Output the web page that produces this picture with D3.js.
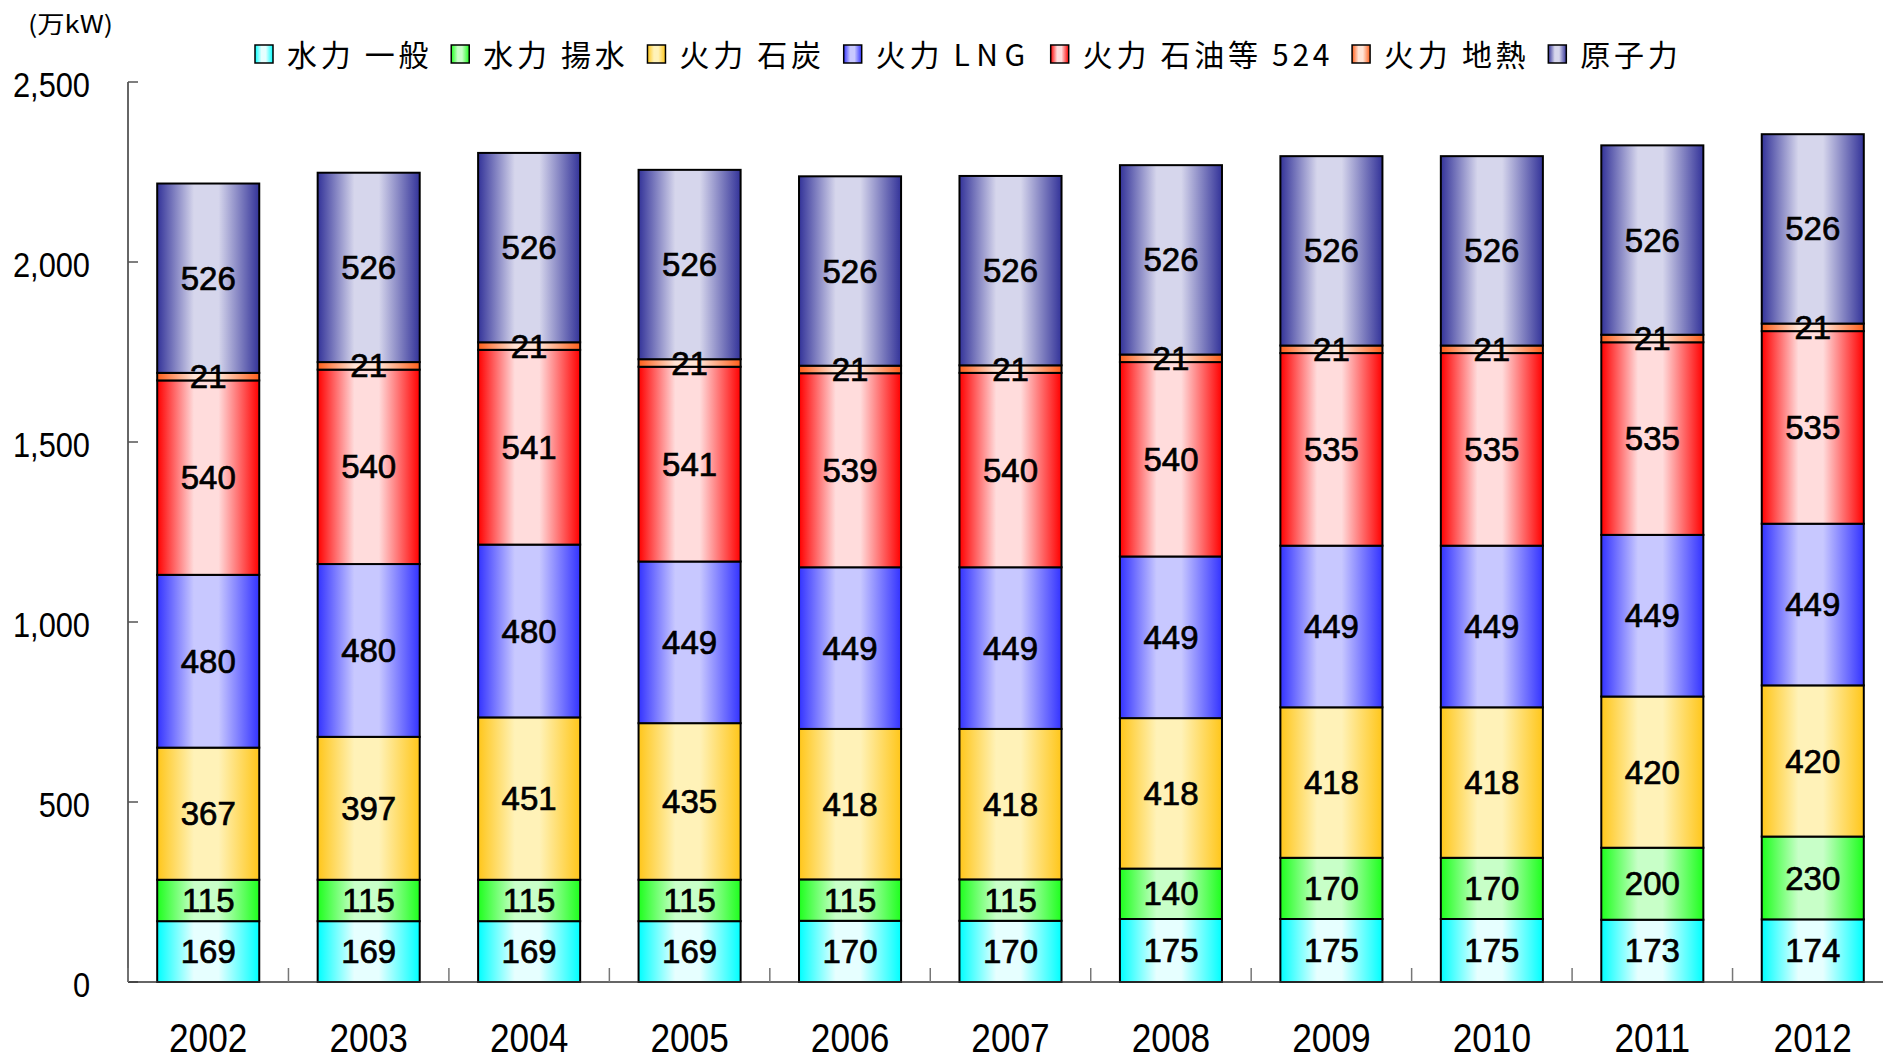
<!DOCTYPE html>
<html>
<head>
<meta charset="utf-8">
<script src="https://cdn.jsdelivr.net/npm/d3@7"></script>
<style>
  body { margin: 0; background: #fff; }
  svg { display: block; }
</style>
</head>
<body>
<div id="chart"></div>
<script>
// data (万kW)
const years = ["2002", "2003", "2004", "2005", "2006", "2007", "2008", "2009", "2010", "2011", "2012"];
const seriesNames = ["水力 一般", "水力 揚水", "火力 石炭", "火力 LNG", "火力 石油等 524", "火力 地熱", "原子力"];
const hydroGeneral = [169, 169, 169, 169, 170, 170, 175, 175, 175, 173, 174];
const hydroPumped = [115, 115, 115, 115, 115, 115, 140, 170, 170, 200, 230];
const coal = [367, 397, 451, 435, 418, 418, 418, 418, 418, 420, 420];
const lng = [480, 480, 480, 449, 449, 449, 449, 449, 449, 449, 449];
const oil = [540, 540, 541, 541, 539, 540, 540, 535, 535, 535, 535];
const geothermal = [21, 21, 21, 21, 21, 21, 21, 21, 21, 21, 21];
const nuclear = [526, 526, 526, 526, 526, 526, 526, 526, 526, 526, 526];
const yTicks = [0, 500, 1000, 1500, 2000, 2500];

const seriesValues = [hydroGeneral, hydroPumped, coal, lng, oil, geothermal, nuclear];
// edge colour, centre colour of each gradient
const seriesColors = [
  ["#00ffff", "#e6ffff"],
  ["#1eff1e", "#c8ffc8"],
  ["#ffc61a", "#fff2b8"],
  ["#3333ff", "#c8c8ff"],
  ["#ff0000", "#ffdcdc"],
  ["#ff5e1a", "#ffe4d6"],
  ["#333399", "#d6d6ec"]
];

const width = 1883, height = 1063;
const numFont = "Arial, 'Liberation Sans', sans-serif";
const cjkFont = "'Noto Sans CJK JP', sans-serif";

const svg = d3.select("#chart").append("svg")
  .attr("width", width)
  .attr("height", height);

// gradients: dark at both edges, light in the middle
const defs = svg.append("defs");
seriesColors.forEach((c, i) => {
  const g = defs.append("linearGradient")
    .attr("id", "grad" + i)
    .attr("x1", "0").attr("x2", "1").attr("y1", "0").attr("y2", "0");
  g.append("stop").attr("offset", "0").attr("stop-color", c[0]);
  g.append("stop").attr("offset", "0.36").attr("stop-color", c[1]);
  g.append("stop").attr("offset", "0.6").attr("stop-color", c[1]);
  g.append("stop").attr("offset", "1").attr("stop-color", c[0]);
});

const x = d3.scaleBand()
  .domain(years)
  .range([128, 128 + 1765])
  .paddingInner(0.364)
  .paddingOuter(0.182);

const y = d3.scaleLinear()
  .domain([0, 2500])
  .range([982, 82]);

// stack the series
const rows = years.map((yr, i) => {
  const r = { year: yr };
  seriesNames.forEach((s, k) => { r[s] = seriesValues[k][i]; });
  return r;
});
const stacked = d3.stack().keys(seriesNames)(rows);

// bars
const layers = svg.append("g").selectAll("g")
  .data(stacked)
  .enter()
  .append("g")
  .attr("fill", (d, i) => "url(#grad" + i + ")");

layers.selectAll("rect")
  .data(d => d)
  .enter()
  .append("rect")
  .attr("x", d => x(d.data.year))
  .attr("y", d => y(d[1]))
  .attr("width", x.bandwidth())
  .attr("height", d => y(d[0]) - y(d[1]))
  .attr("stroke", "#000")
  .attr("stroke-width", 2);

// value labels (thin stroke to make them a bit heavier)
const labels = svg.append("g")
  .attr("font-family", numFont)
  .attr("font-size", 33)
  .attr("text-anchor", "middle")
  .attr("fill", "#000")
  .attr("stroke", "#000")
  .attr("stroke-width", 0.7);

stacked.forEach(layer => {
  labels.selectAll(null)
    .data(layer)
    .enter()
    .append("text")
    .attr("x", d => x(d.data.year) + x.bandwidth() / 2)
    .attr("y", d => y((d[0] + d[1]) / 2))
    .attr("dy", "0.35em")
    .text(d => d[1] - d[0]);
});

// y axis
const yAxis = svg.append("g");
yAxis.append("line")
  .attr("x1", 128).attr("x2", 128)
  .attr("y1", y(2500)).attr("y2", y(0))
  .attr("stroke", "#333").attr("stroke-width", 1.5);
yAxis.selectAll(".tick")
  .data(yTicks)
  .enter()
  .append("line")
  .attr("x1", 128).attr("x2", 138)
  .attr("y1", d => y(d)).attr("y2", d => y(d))
  .attr("stroke", "#555").attr("stroke-width", 1.5);
yAxis.selectAll("text")
  .data(yTicks)
  .enter()
  .append("text")
  .attr("transform", d => "translate(90," + (y(d) + 3) + ") scale(0.88,1)")
  .attr("dy", "0.35em")
  .attr("text-anchor", "end")
  .attr("font-family", numFont)
  .attr("font-size", 35)
  .text(d => d3.format(",")(d));

// x axis
const xAxis = svg.append("g");
xAxis.append("line")
  .attr("x1", 128).attr("x2", width)
  .attr("y1", y(0)).attr("y2", y(0))
  .attr("stroke", "#333").attr("stroke-width", 1.5);
xAxis.selectAll(".tick")
  .data(years)
  .enter()
  .append("line")
  .attr("x1", d => x(d) - x.step() * x.paddingOuter())
  .attr("x2", d => x(d) - x.step() * x.paddingOuter())
  .attr("y1", y(0) - 14).attr("y2", y(0))
  .attr("stroke", "#777").attr("stroke-width", 1.5);
xAxis.selectAll("text")
  .data(years)
  .enter()
  .append("text")
  .attr("transform", d => "translate(" + (x(d) + x.bandwidth() / 2) + ",1052) scale(0.86,1)")
  .attr("text-anchor", "middle")
  .attr("font-family", numFont)
  .attr("font-size", 41)
  .text(d => d);

// unit label
svg.append("text")
  .attr("x", 28).attr("y", 25)
  .attr("dy", "0.35em")
  .attr("font-family", cjkFont)
  .attr("font-size", 24)
  .attr("textLength", 85)
  .attr("lengthAdjust", "spacingAndGlyphs")
  .text("(万kW)");

// legend, laid out left to right
const legend = svg.append("g");
let lx = 255;
seriesNames.forEach((name, i) => {
  legend.append("rect")
    .attr("x", lx).attr("y", 45)
    .attr("width", 18).attr("height", 18)
    .attr("fill", "url(#grad" + i + ")")
    .attr("stroke", "#000").attr("stroke-width", 1.5);
  const t = legend.append("text")
    .attr("x", lx + 32).attr("y", 55)
    .attr("dy", "0.36em")
    .attr("font-family", cjkFont)
    .attr("font-size", 30)
    .attr("letter-spacing", 3.7);
  // latin letters are spaced wider in the original
  name.split(/([A-Z]+)/).forEach(part => {
    if (!part) return;
    const ts = t.append("tspan").text(part);
    if (/^[A-Z]+$/.test(part)) ts.attr("letter-spacing", 6.5);
  });
  lx = lx + 32 + t.node().getComputedTextLength() + 19;
});
</script>
</body>
</html>
